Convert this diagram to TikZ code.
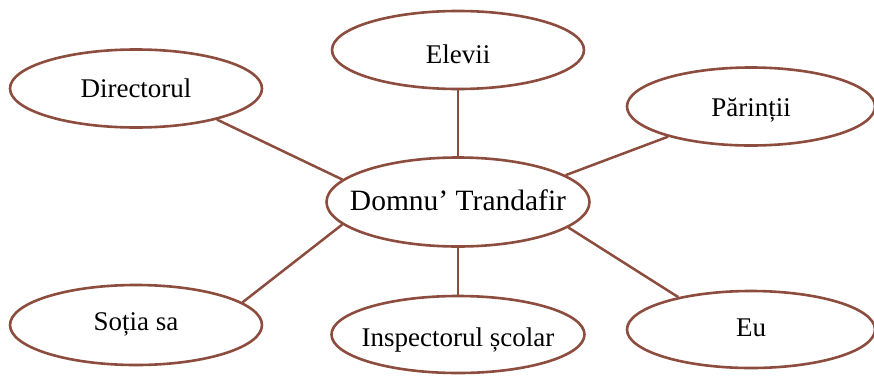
\documentclass[tikz,border=0pt]{standalone}
\usepackage{fontspec}
\setmainfont{Liberation Serif}
\usetikzlibrary{shapes.geometric}
\definecolor{brn}{RGB}{140,76,62}
\tikzset{
  oval/.style={ellipse, draw=brn, line width=2.6pt, fill=white, inner sep=0pt,
    minimum width=252pt, minimum height=78pt, text height=16pt, text depth=0pt,
    font=\fontsize{27}{31}\selectfont},
  bigoval/.style={oval, minimum width=263pt, minimum height=89pt,
    font=\fontsize{29.5}{33}\selectfont},
  link/.style={draw=brn, line width=2.5pt}
}
\newcommand{\ztext}[1]{\makebox[0pt][c]{#1}}
\begin{document}
\begin{tikzpicture}[x=1pt,y=-1pt]
\useasboundingbox (0,0) rectangle (874,375);
\node[bigoval, text height=16pt] (c) at (458,202) {\ztext{Domnu’ Trandafir}};
\node[oval, text height=26pt] (el) at (458,50) {\ztext{Elevii}};
\node[oval, text height=17.6pt] (di) at (136,88.5) {\ztext{Directorul}};
\node[oval, minimum width=248pt, text height=20pt] (pa) at (751,106.5) {\ztext{Părinții}};
\node[oval, minimum height=80pt, text height=11.4pt] (so) at (136,325) {\ztext{Soția sa}};
\node[oval, minimum width=253pt, minimum height=77pt, text height=24pt] (in) at (458,334.5) {\ztext{Inspectorul școlar}};
\node[oval, minimum width=248pt, minimum height=77pt, text height=14pt] (eu) at (751,329.5) {\ztext{Eu}};
\draw[link] (di.339) -- (c.169);
\draw[link] (el.south) -- (c.north);
\draw[link] (pa.200) -- (c.14.6);
\draw[link] (so.12) -- (c.191.8);
\draw[link] (in.north) -- (c.south);
\draw[link] (eu.156) -- (c.347.5);
\end{tikzpicture}
\end{document}
